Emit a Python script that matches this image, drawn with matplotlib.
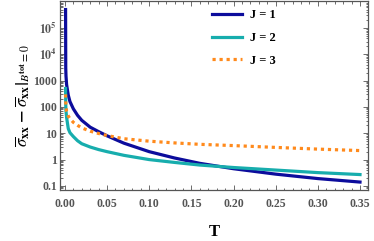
import matplotlib
matplotlib.use('Agg')
import matplotlib.pyplot as plt
from matplotlib.ticker import AutoMinorLocator, LogLocator, NullFormatter

# values
T = [0.0008, 0.001, 0.0013, 0.002, 0.004, 0.006, 0.01, 0.015, 0.02, 0.03,
     0.04, 0.05, 0.07, 0.1, 0.13, 0.16, 0.2, 0.25, 0.3, 0.35]
J1 = [5e5, 3000, 1500, 710, 280, 160, 85, 48, 31, 17,
      11.5, 8, 4.2, 2.0, 1.15, 0.72, 0.45, 0.28, 0.19, 0.14]
J2 = [500, 120, 70, 40, 15, 10.5, 7.5, 5.2, 4.0, 3.0,
      2.4, 2.0, 1.45, 1.0, 0.78, 0.62, 0.5, 0.4, 0.32, 0.27]
J3 = [300, 150, 105, 67, 45, 36, 26, 20, 16, 12,
      9.8, 8.2, 6.2, 5.0, 4.3, 3.8, 3.4, 2.9, 2.5, 2.2]

xticks = [0.0, 0.05, 0.10, 0.15, 0.20, 0.25, 0.30, 0.35]
xticklabels = ['0.00', '0.05', '0.10', '0.15', '0.20', '0.25', '0.30', '0.35']
yticks = [0.1, 1, 10, 100, 1000, 1e4, 1e5]
yticklabels = ['0.1', '1', '10', '100', '1000', r'$\mathbf{10^4}$', r'$\mathbf{10^5}$']

plt.rcParams['mathtext.fontset'] = 'stix'
serif = 'Liberation Serif'
gray = '#555555'

fig = plt.figure(figsize=(3.74, 2.41), dpi=100)
ax = fig.add_axes([0.16, 0.212, 0.824, 0.784])

ax.plot(T, J1, color='#0c0c9c', linewidth=2.3, label='J = 1')
ax.plot(T, J2, color='#17adad', linewidth=2.3, label='J = 2')
ax.plot(T, J3, color='#ff8a1c', linewidth=2.3, linestyle=(0, (1.0, 1.2)), label='J = 3')

ax.set_yscale('log')
ax.set_xlim(-0.006, 0.3595)
ax.set_ylim(0.0705, 1.06e6)

ax.set_xticks(xticks)
ax.set_xticklabels(xticklabels)
ax.set_yticks(yticks)
ax.set_yticklabels(yticklabels)
ax.xaxis.set_minor_locator(AutoMinorLocator(5))
ax.yaxis.set_minor_locator(LogLocator(base=10, subs=range(2, 10), numticks=20))
ax.yaxis.set_minor_formatter(NullFormatter())

ax.tick_params(which='both', direction='in', top=True, right=True, colors=gray,
               labelcolor=gray, width=0.6)
ax.tick_params(which='major', length=3.5, labelsize=8.5)
ax.tick_params(which='minor', length=1.8)
ax.tick_params(axis='x', pad=6)
ax.tick_params(axis='y', pad=2)
for lab in ax.get_xticklabels() + ax.get_yticklabels():
    lab.set_family(serif)
    lab.set_fontweight('bold')
for sp in ax.spines.values():
    sp.set_color(gray)
    sp.set_linewidth(0.9)

ax.set_xlabel('T', fontfamily=serif, fontweight='bold', fontsize=12, labelpad=10)
ax.set_ylabel(r'$\overline{\sigma}_{\mathbf{xx}}\;\mathbf{-}\;\left.\overline{\sigma}_{\mathbf{xx}}\right|_{B^{\mathbf{tot}}=0}$',
              fontsize=12, labelpad=1)

leg = ax.legend(loc='upper left', bbox_to_anchor=(0.493, 0.955), frameon=False,
                handlelength=2.4, handletextpad=0.65, borderpad=0, borderaxespad=0,
                labelspacing=0.85,
                prop={'family': serif, 'weight': 'bold', 'size': 9})

fig.savefig('out.png', dpi=100)
